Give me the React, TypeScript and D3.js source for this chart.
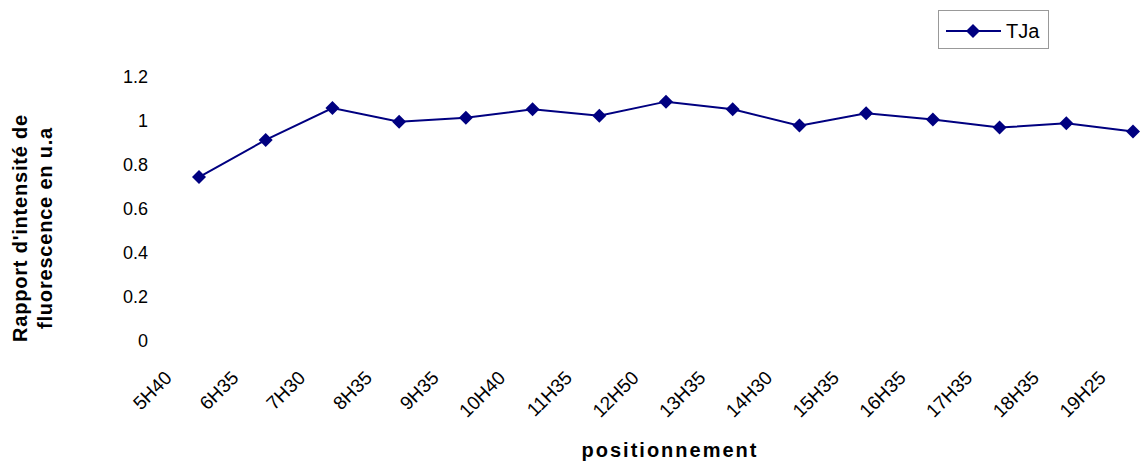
import React from "react";
import * as d3 from "d3";

const categories = ["5H40","6H35","7H30","8H35","9H35","10H40","11H35","12H50","13H35","14H30","15H35","16H35","17H35","18H35","19H25"];
const tjaValues = [0.745,0.914,1.059,0.997,1.015,1.053,1.024,1.088,1.053,0.979,1.035,1.007,0.97,0.99,0.952];
const yTicks = [0,0.2,0.4,0.6,0.8,1,1.2];
const seriesName = "TJa";
const yTitleLines = ["Rapport d'intensité de","fluorescence en u.a"];
const xTitle = "positionnement";

const W = 1140, H = 462;
const COLOR = "#000080";
const FONT = "'Liberation Sans', Arial, sans-serif";

export default function App() {
  const x = d3.scalePoint<string>().domain(categories).range([199, 1133]);
  const y = d3.scaleLinear().domain([0, 1.2]).range([341, 77]);
  const line = d3.line<number>().x((_, i) => x(categories[i])!).y(d => y(d));
  const diamond = d3.symbol().type(d3.symbolSquare).size(98)();
  const fmt = (v: number) => String(+v.toFixed(1));

  return (
    <svg width={W} height={H} style={{ position: "absolute", left: 0, top: 0, background: "#fff" }} fontFamily={FONT}>
      <rect width={W} height={H} fill="#fff" />
      {/* y tick labels */}
      {yTicks.map(t => (
        <text key={t} x={148} y={y(t)} dy="0.36em" textAnchor="end" fontSize={18} fill="#000">{fmt(t)}</text>
      ))}
      {/* x tick labels */}
      {categories.map(c => (
        <text key={c} transform={`translate(${x(c)! - 26},${379}) rotate(-45)`} textAnchor="end" fontSize={19} fill="#000">{c}</text>
      ))}
      {/* line */}
      <path d={line(tjaValues) || ""} fill="none" stroke={COLOR} strokeWidth={2} />
      {tjaValues.map((v, i) => (
        <path key={i} d={diamond!} transform={`translate(${x(categories[i])},${y(v)}) rotate(45)`} fill={COLOR} />
      ))}
      {/* y title */}
      {yTitleLines.map((l, i) => (
        <text key={i} transform={`translate(${27 + i * 25},228) rotate(-90)`} textAnchor="middle" fontSize={20} fontWeight="bold" letterSpacing={0.8} fill="#000">{l}</text>
      ))}
      {/* x title */}
      <text x={670} y={457} textAnchor="middle" fontSize={20} fontWeight="bold" letterSpacing={2} fill="#000">{xTitle}</text>
      {/* legend */}
      <g>
        <rect x={938.5} y={10.5} width={110} height={38} fill="#fff" stroke="#999" strokeWidth={1} />
        <line x1={946} x2={1001} y1={31} y2={31} stroke={COLOR} strokeWidth={2} />
        <path d={diamond!} transform={`translate(973,31) rotate(45)`} fill={COLOR} />
        <text x={1006} y={31} dy="0.36em" fontSize={20} fill="#000">{seriesName}</text>
      </g>
    </svg>
  );
}
